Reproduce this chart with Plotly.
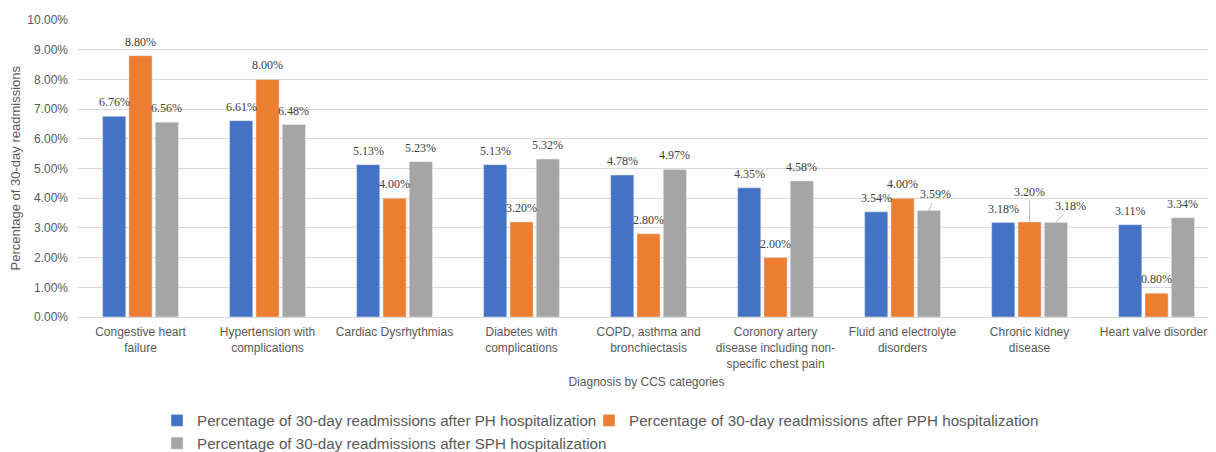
import plotly.graph_objects as go

categories = [
    "Congestive heart<br>failure",
    "Hypertension with<br>complications",
    "Cardiac Dysrhythmias",
    "Diabetes with<br>complications",
    "COPD, asthma and<br>bronchiectasis",
    "Coronory artery<br>disease including non-<br>specific chest pain",
    "Fluid and electrolyte<br>disorders",
    "Chronic kidney<br>disease",
    "Heart valve disorders",
]
ph_values = [6.76, 6.61, 5.13, 5.13, 4.78, 4.35, 3.54, 3.18, 3.11]
pph_values = [8.80, 8.00, 4.00, 3.20, 2.80, 2.00, 4.00, 3.20, 0.80]
sph_values = [6.56, 6.48, 5.23, 5.32, 4.97, 4.58, 3.59, 3.18, 3.34]
series_names = [
    "Percentage of 30-day readmissions after PH hospitalization",
    "Percentage of 30-day readmissions after PPH hospitalization",
    "Percentage of 30-day readmissions after SPH hospitalization",
]
colors = ["#4472C4", "#ED7D31", "#A5A5A5"]
legend_ids = ["legend", "legend2", "legend"]
y_ticks = [0, 1, 2, 3, 4, 5, 6, 7, 8, 9, 10]
y_title = "Percentage of 30-day readmissions"
x_title = "Diagnosis by CCS categories"

# leader-line labels: (series index, category index) -> (ax, ay)
leader = {(2, 6): (7, -16), (1, 7): (0, -30), (2, 7): (15, -17)}

# page has an 8px body margin, so the figure is drawn 8px smaller
W, H = 1208, 444
ml, mr, mt, mb = 69, 0, 12, 135
x_range = [-0.5, 8.468]
bargap = 0.378
bargroupgap = 0.12

fig = go.Figure()
all_series = [ph_values, pph_values, sph_values]
for name, vals, col, lg in zip(series_names, all_series, colors, legend_ids):
    fig.add_trace(go.Bar(x=categories, y=vals, name=name, marker_color=col, legend=lg))

px_per_unit = (W - ml - mr) / (x_range[1] - x_range[0])
slot = px_per_unit * (1 - bargap) / 3

annotations = []
for si, vals in enumerate(all_series):
    for ci, v in enumerate(vals):
        base = dict(
            x=categories[ci], y=v, text=f"{v:.2f}%", xref="x", yref="y",
            font=dict(family="Liberation Serif, Times New Roman, serif", size=12, color="#404040"),
        )
        if (si, ci) in leader:
            ax, ay = leader[(si, ci)]
            base.update(
                showarrow=True, arrowhead=0, arrowwidth=0.8, arrowcolor="#A6A6A6",
                ax=ax, ay=ay, xshift=(si - 1) * slot, standoff=0,
            )
        else:
            base.update(showarrow=False, yanchor="bottom", yshift=5, xshift=(si - 1) * slot)
        annotations.append(base)

# y-axis title as a rotated annotation
annotations.append(dict(
    text=y_title, xref="paper", yref="paper", x=0, y=0.5, xanchor="center", yanchor="middle",
    xshift=-62, textangle=-90, showarrow=False, font=dict(size=13, color="#595959"),
))

legend_font = dict(size=15.2, color="#595959")
fig.update_layout(
    width=W, height=H,
    margin=dict(l=ml, r=mr, t=mt, b=mb, autoexpand=False),
    plot_bgcolor="white", paper_bgcolor="white",
    barmode="group", bargap=bargap, bargroupgap=bargroupgap,
    font=dict(family="Liberation Sans, Arial, sans-serif", color="#595959", size=12),
    annotations=annotations,
    legend=dict(
        orientation="v", xref="container", x=149 / W, xanchor="left",
        yref="container", y=1 - 396 / H, yanchor="top", bgcolor="rgba(0,0,0,0)",
        font=legend_font, traceorder="normal", tracegroupgap=0,
    ),
    legend2=dict(
        orientation="v", xref="container", x=581 / W, xanchor="left",
        yref="container", y=1 - 396 / H, yanchor="top", bgcolor="rgba(0,0,0,0)",
        font=legend_font,
    ),
    xaxis=dict(
        range=x_range, showline=True, linecolor="#D9D9D9", linewidth=1,
        tickfont=dict(size=12, color="#595959"), ticks="", ticklabelstandoff=4,
        title=dict(text=x_title, font=dict(size=12, color="#595959"), standoff=8),
        automargin=False,
    ),
    yaxis=dict(
        range=[0, 10], tickvals=y_ticks, ticktext=[f"{t:.2f}%" for t in y_ticks],
        showgrid=True, gridcolor="#D9D9D9", gridwidth=1, zeroline=False,
        tickfont=dict(size=12, color="#595959"), ticklabelstandoff=8,
        automargin=False,
    ),
)

fig.write_html("out.html")
